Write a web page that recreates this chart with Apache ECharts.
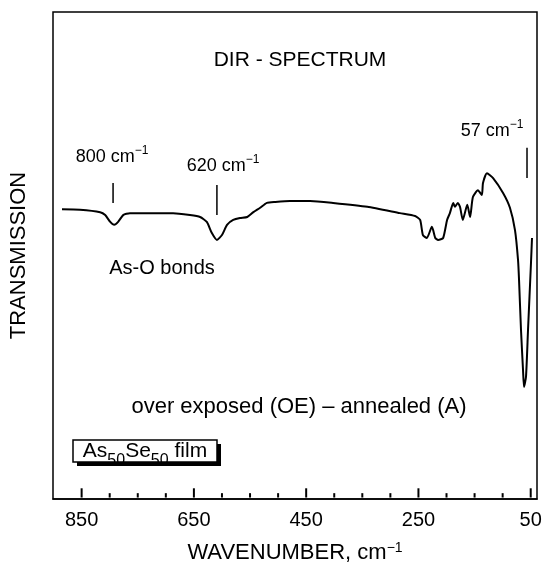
<!DOCTYPE html>
<html>
<head>
<meta charset="utf-8">
<script src="https://cdn.jsdelivr.net/npm/echarts@6/dist/echarts.min.js"></script>
<style>
  html, body { margin: 0; padding: 0; background: #fff; }
  #chart { width: 542px; height: 570px; }
</style>
</head>
<body>
<div id="chart"></div>
<script>
// wavenumber (cm-1) and transmission (arb. units, 0 = bottom of frame, 100 = top)
const wavenumber = [885, 853, 817, 808, 799, 792, 785, 776, 764, 746, 710, 687, 657, 639, 627, 618, 609, 600, 591, 580, 568, 555, 544, 532, 520, 505, 479, 443, 402, 341, 283, 256, 247, 242, 235, 226, 220, 215, 206, 199, 194, 188, 185, 180, 176, 171, 163, 158, 153, 144, 137, 135, 128, 117, 99, 87, 78, 72.6, 70.8, 67.3, 63.7, 61.9, 58.4, 54.8, 49.5, 47.7]
const transmission = [59.5, 59.4, 58.9, 58.3, 56.9, 56.3, 56.9, 58.3, 58.7, 58.7, 58.7, 58.7, 58.3, 57.9, 56.9, 54.6, 53.2, 54.2, 56.3, 57.3, 57.7, 57.9, 58.9, 59.8, 60.8, 61.0, 61.2, 61.2, 60.8, 60.0, 58.7, 58.1, 57.3, 54.2, 53.6, 55.9, 53.6, 53.2, 53.6, 57.3, 58.7, 60.8, 60.0, 60.8, 60.0, 57.3, 60.4, 57.9, 62.0, 63.4, 62.4, 64.9, 66.9, 65.9, 62.8, 59.8, 55.2, 49.1, 45.0, 34.7, 26.5, 23.0, 25.1, 34.7, 48.5, 53.6]

const majorTicks = [850, 650, 450, 250, 50]
const minorTicks = [800, 750, 700, 600, 550, 500, 400, 350, 300, 200, 150, 100]

// band markers: [wavenumber, low, high]
const markers = [[794, 60.8, 64.9], [609, 58.3, 64.5], [56.6, 65.9, 72.1]]

const FONT = '"Liberation Sans", Arial, Helvetica, sans-serif'
const txt = (size) => ({ fontSize: size, fontFamily: FONT, color: '#000', lineHeight: 24 })
const sup = (size) => ({ fontSize: size, fontFamily: FONT, color: '#000', verticalAlign: 'top', lineHeight: 24 })

const chart = echarts.init(document.getElementById('chart'))

// inward tick marks as short vertical segments starting at the bottom of the frame
const tickSeries = (values, len) => values.map(v => ({
  type: 'line',
  silent: true,
  clip: false,
  data: [[v, 0.3], [v, len]],
  showSymbol: false,
  lineStyle: { color: '#000', width: 2 },
  z: 10
}))

const option = {
  animation: false,
  grid: { left: 53, right: 5, top: 12, bottom: 71, outerBoundsMode: 'none', containLabel: false, show: true, borderColor: '#000', borderWidth: 1.5 },
  xAxis: {
    type: 'value', inverse: true, min: 38.8, max: 901,
    name: '{a|WAVENUMBER, cm}{s|−1}', nameLocation: 'middle', nameGap: 42,
    nameTextStyle: { rich: { a: txt(22), s: sup(14) } },
    axisLine: { show: true, lineStyle: { color: '#000', width: 1.5 } },
    axisTick: { show: false },
    axisLabel: { customValues: majorTicks, color: '#000', fontSize: 20, fontFamily: FONT, margin: 11 },
    splitLine: { show: false }
  },
  yAxis: {
    type: 'value', min: 0, max: 100,
    name: 'TRANSMISSION', nameLocation: 'middle', nameGap: 23,
    nameTextStyle: { color: '#000', fontSize: 22, fontFamily: FONT },
    axisLine: { show: false }, axisTick: { show: false }, axisLabel: { show: false },
    splitLine: { show: false }
  },
  series: [
    {
      type: 'line',
      data: wavenumber.map((w, i) => [w, transmission[i]]),
      showSymbol: false,
      smooth: 0.2,
      lineStyle: { color: '#000', width: 2 }
    },
    ...markers.map(m => ({
      type: 'line',
      data: [[m[0], m[1]], [m[0], m[2]]],
      showSymbol: false,
      lineStyle: { color: '#000', width: 1.5 }
    })),
    ...tickSeries(majorTicks, 2.2),
    ...tickSeries(minorTicks, 1.2)
  ],
  graphic: [
    { type: 'text', x: 300, y: 60, style: { text: 'DIR - SPECTRUM', font: '21px ' + FONT, fill: '#000', align: 'center', verticalAlign: 'middle' } },
    { type: 'text', x: 112, y: 157, style: { text: '{a|800 cm}{s|−1}', rich: { a: txt(18), s: sup(12) }, align: 'center', verticalAlign: 'middle' } },
    { type: 'text', x: 223, y: 166, style: { text: '{a|620 cm}{s|−1}', rich: { a: txt(18), s: sup(12) }, align: 'center', verticalAlign: 'middle' } },
    { type: 'text', x: 492, y: 131, style: { text: '{a|57 cm}{s|−1}', rich: { a: txt(18), s: sup(12) }, align: 'center', verticalAlign: 'middle' } },
    { type: 'text', x: 162, y: 268, style: { text: 'As-O bonds', font: '20px ' + FONT, fill: '#000', align: 'center', verticalAlign: 'middle' } },
    { type: 'text', x: 299, y: 407, style: { text: 'over exposed (OE) – annealed (A)', font: '22px ' + FONT, fill: '#000', align: 'center', verticalAlign: 'middle' } },
    { type: 'rect', shape: { x: 77, y: 444, width: 144, height: 22 }, style: { fill: '#000' } },
    { type: 'rect', shape: { x: 73, y: 440, width: 144, height: 22 }, style: { fill: '#fff', stroke: '#000', lineWidth: 1.5 } },
    {
      type: 'text', x: 145, y: 455,
      style: {
        text: '{a|As}{b|50}{a|Se}{b|50}{a| film}',
        rich: {
          a: { fontSize: 21, fontFamily: FONT, color: '#000', lineHeight: 28, verticalAlign: 'top' },
          b: { fontSize: 16, fontFamily: FONT, color: '#000', lineHeight: 28, verticalAlign: 'bottom' }
        },
        align: 'center', verticalAlign: 'middle'
      }
    }
  ]
}

chart.setOption(option)
</script>
</body>
</html>
